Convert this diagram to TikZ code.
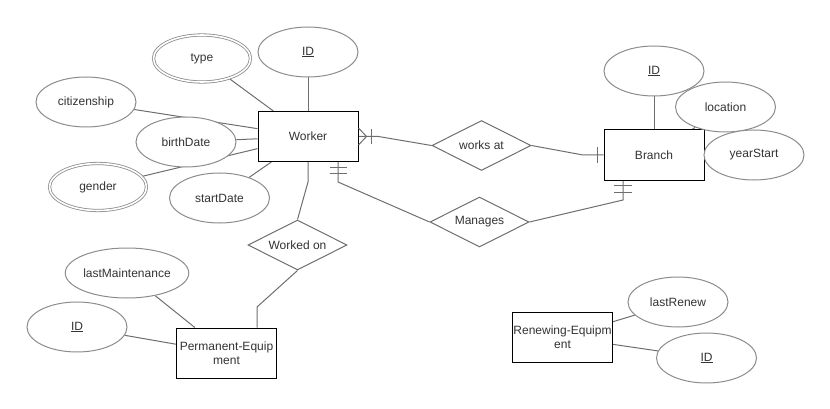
\documentclass[tikz,border=0pt]{standalone}
\usepackage{fontspec}
\setmainfont{Liberation Sans}
\usepackage{xcolor}
\usetikzlibrary{
  shapes.geometric,
  backgrounds
}
\definecolor{erline}{HTML}{6E6E6E}
\definecolor{erattr}{HTML}{8C8C8C}
\definecolor{ertext}{HTML}{333333}

\begin{document}
\begin{tikzpicture}[x=1pt, y=-1pt,
  every node/.style = {font=\fontsize{12}{14}\selectfont, text=ertext,
    align=center, inner sep=0pt, fill=white, line width=1pt},
  entity/.style = {shape=rectangle, draw=black,
    minimum width=100pt, minimum height=50pt},
  attrib/.style = {shape=ellipse, draw=erattr,
    minimum width=100pt, minimum height=50pt},
  multi/.style = {attrib, minimum width=97pt, minimum height=47pt,
    double=white, double distance=1.6pt, line width=0.8pt},
  relation/.style = {shape=diamond, draw=erline, aspect=2,
    minimum width=99pt, minimum height=50pt}]
  \tikzstyle{link}=[draw=erline, line width=1pt]
  \useasboundingbox (0,0) rectangle (830,409);

  \node[entity] (worker) at (308,136.5) {Worker};
  \node[entity] (branch) at (654,155) {Branch};
  \node[entity] (permequip) at (226.5,353) {Permanent-Equip\\ment};
  \node[entity] (renewequip) at (562.5,337) {Renewing-Equipm\\ent};

  \node[attrib] (workerid) at (308,52) {\underline{ID}};
  \node[multi] (type) at (202,58.5) {type};
  \node[attrib] (citizenship) at (86,102) {citizenship};
  \node[attrib] (birthdate) at (186,142) {birthDate};
  \node[multi] (gender) at (98,187) {gender};
  \node[attrib] (startdate) at (219.5,198) {startDate};

  \node[attrib] (branchid) at (654,71) {\underline{ID}};
  \node[attrib] (location) at (725.5,107) {location};
  \node[attrib] (yearstart) at (754,155) {yearStart};

  \node[attrib] (lastmaint) at (127,273) {lastMaintenance};
  \node[attrib] (equipid) at (77,327) {\underline{ID}};
  \node[attrib] (lastrenew) at (678,302) {lastRenew};
  \node[attrib] (renewid) at (706.5,358) {\underline{ID}};

  \node[relation] (worksat) at (481.5,145.5) {works at};
  \node[relation] (manages) at (479.5,222) {Manages};
  \node[relation] (workedon) at (297.5,245) {Worked on};

  \coordinate (wb) at (583,155);
  \coordinate (bm) at (623,200);
  \coordinate (wm) at (338,182);
  \coordinate (ww) at (308,182);
  \coordinate (wp) at (257,307);

  \begin{scope}[on background layer]
    \foreach \a in {workerid, type, citizenship, birthdate, gender, startdate}
      \draw[link] (\a) -- (worker);
    \foreach \a in {branchid, location, yearstart}
      \draw[link] (\a) -- (branch);
    \foreach \a in {lastmaint, equipid}
      \draw[link] (\a) -- (permequip);
    \foreach \a in {lastrenew, renewid}
      \draw[link] (\a) -- (renewequip);

    \draw[link] (worker.east) -- ++(20,0) -- (worksat.west);
    \draw[link] (worksat.east) -- (wb) -- (branch.west);
    \draw[link] (manages.east) -- (bm) -- (bm |- branch.south);
    \draw[link] (manages.west) -- (wm) -- (wm |- worker.south);
    \draw[link] (worker.south) -- (ww) -- (workedon.north);
    \draw[link] (workedon.south) -- (wp) -- (wp |- permequip.north);
  \end{scope}

  \draw[link] (worker.east) ++(0,-8.5) -- ++(8,8.5) -- ++(-8,8.5);
  \draw[link] (worker.east) ++(13,-7.5) -- ++(0,15);
  \draw[link] (branch.west) ++(-6,-8) -- ++(0,16);
  \draw[link] (bm |- branch.south) ++(-9,5) -- ++(18,0) ++(-18,7) -- ++(18,0);
  \draw[link] (wm |- worker.south) ++(-8.5,6) -- ++(17,0) ++(-17,5) -- ++(17,0);
\end{tikzpicture}
\end{document}
